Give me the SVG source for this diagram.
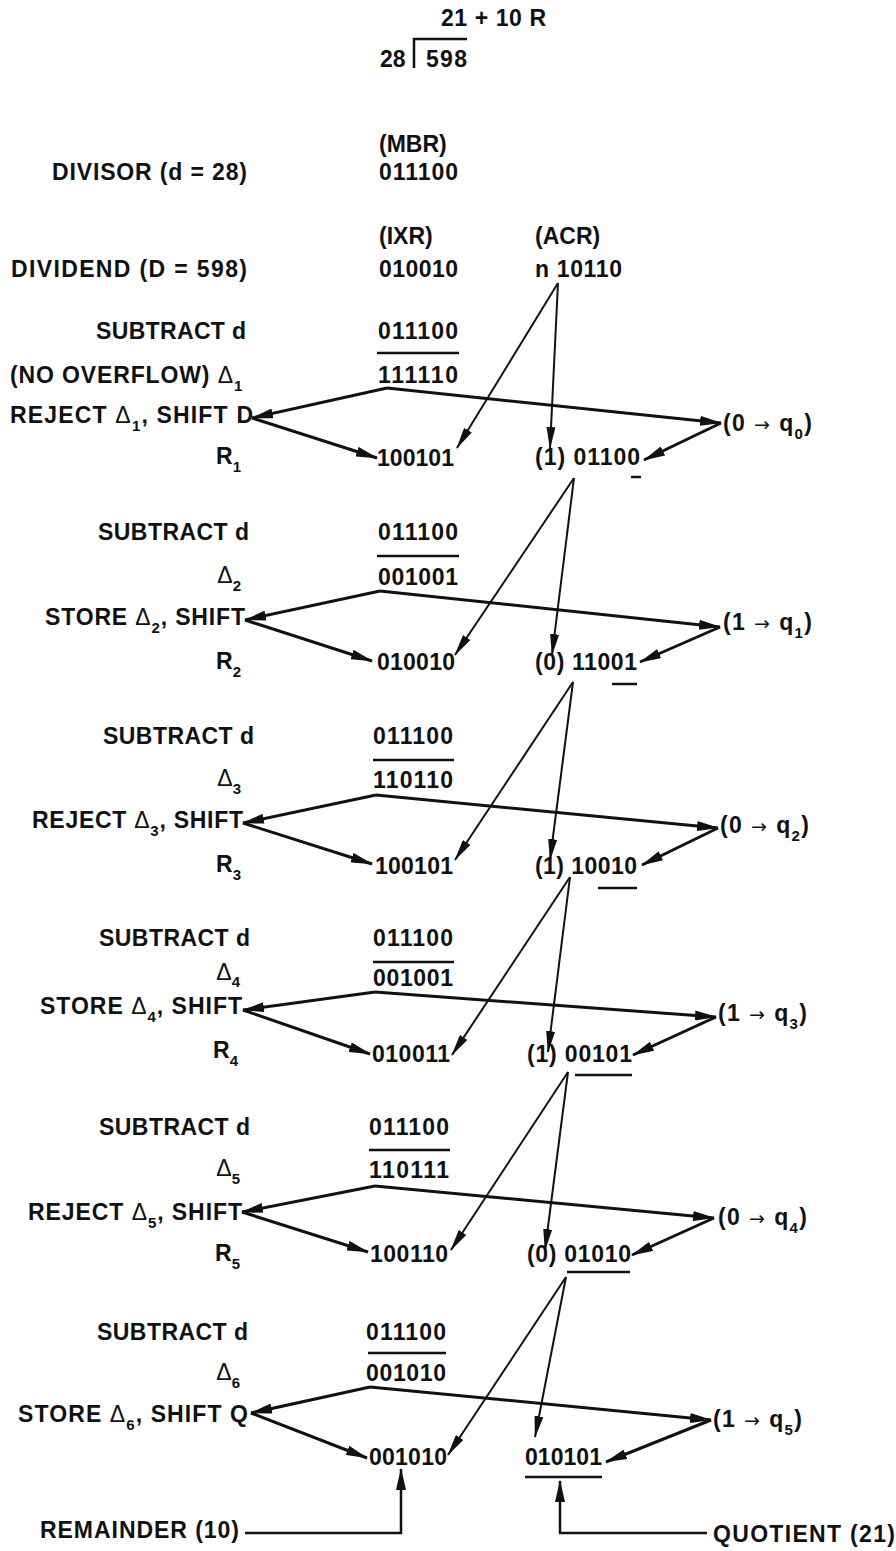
<svg xmlns="http://www.w3.org/2000/svg" width="896" height="1551" viewBox="0 0 896 1551">
<style>
  text { font-family: "Liberation Sans", Arial, sans-serif; font-weight: bold; font-size: 23px; fill: #111; }
  .lbl { text-anchor: end; }
  .num { text-anchor: end; }
  .d { font-weight: normal; }
  .ar { font-family: "DejaVu Sans", sans-serif; font-size: 19px; font-weight: normal; }
  .sub { font-size: 15px; }
  .rule { stroke: #111; stroke-width: 2.5; fill: none; }
  .flow { stroke: #111; stroke-width: 3; fill: none; marker-end: url(#head); }
  .load { stroke: #111; stroke-width: 2; fill: none; marker-end: url(#headThin); }
  .tag { stroke: #111; stroke-width: 2.5; fill: none; marker-end: url(#head); }
</style>
<defs>
  <marker id="head" viewBox="0 0 22 10" refX="21" refY="5" markerWidth="22" markerHeight="10" markerUnits="userSpaceOnUse" orient="auto">
    <path d="M0,0 L22,5 L0,10 z" fill="#111"/>
  </marker>
  <marker id="headThin" viewBox="0 0 22 9" refX="21" refY="4.5" markerWidth="22" markerHeight="9" markerUnits="userSpaceOnUse" orient="auto">
    <path d="M0,0 L22,4.5 L0,9 z" fill="#111"/>
  </marker>
</defs>
<rect width="896" height="1551" fill="#fff"/>

<!-- long division heading -->
<g id="division">
  <text x="441" y="26" textLength="105">21 + 10 R</text>
  <text x="380" y="67">28</text>
  <path class="rule" d="M414,68 V39 H467"/>
  <text x="426" y="67" textLength="41">598</text>
</g>

<!-- operands -->
<g id="divisor">
  <text x="379" y="152">(MBR)</text>
  <text class="lbl" x="247" y="180" textLength="195">DIVISOR (d = 28)</text>
  <text class="num" x="458" y="180" textLength="79">011100</text>
</g>
<g id="dividend">
  <text x="379" y="244">(IXR)</text>
  <text x="535" y="244">(ACR)</text>
  <text class="lbl" x="247" y="277" textLength="236">DIVIDEND (D = 598)</text>
  <text class="num" x="458" y="277" textLength="79">010010</text>
  <text x="535" y="277" textLength="87">n 10110</text>
</g>

<!-- step 1 -->
<g id="step1">
  <text class="lbl" x="246" y="339" textLength="150">SUBTRACT d</text>
  <text class="num" x="458" y="339" textLength="80">011100</text>
  <path class="rule" d="M377,353 H459"/>
  <text x="10" y="383" textLength="223">(NO OVERFLOW) <tspan class="d">Δ</tspan></text>
  <text x="234" y="391" class="sub">1</text>
  <text class="num" x="458" y="383" textLength="80">111110</text>
  <text x="10" y="423" textLength="243">REJECT <tspan class="d">Δ</tspan><tspan dy="8" class="sub">1</tspan><tspan dy="-8">, SHIFT D</tspan></text>
  <text x="723" y="431" textLength="89">(0 <tspan class="ar">→</tspan> q<tspan dy="8" class="sub">0</tspan><tspan dy="-8">)</tspan></text>
  <text class="lbl" x="241" y="464">R<tspan dy="8" class="sub">1</tspan></text>
  <text class="num" x="454" y="466" textLength="77">100101</text>
  <text x="535" y="465" textLength="105">(1) 01100</text>
  <path class="rule" d="M631,477 H641"/>
</g>

<!-- step 2 -->
<g id="step2">
  <text class="lbl" x="249" y="540" textLength="151">SUBTRACT d</text>
  <text class="num" x="458" y="540" textLength="80">011100</text>
  <path class="rule" d="M377,556 H459"/>
  <text class="lbl" x="241" y="583"><tspan class="d">Δ</tspan><tspan dy="8" class="sub">2</tspan></text>
  <text class="num" x="458" y="585" textLength="80">001001</text>
  <text x="45" y="625" textLength="200">STORE <tspan class="d">Δ</tspan><tspan dy="8" class="sub">2</tspan><tspan dy="-8">, SHIFT</tspan></text>
  <text x="723" y="630" textLength="89">(1 <tspan class="ar">→</tspan> q<tspan dy="8" class="sub">1</tspan><tspan dy="-8">)</tspan></text>
  <text class="lbl" x="241" y="669">R<tspan dy="8" class="sub">2</tspan></text>
  <text class="num" x="455" y="670" textLength="78">010010</text>
  <text x="535" y="670" textLength="102">(0) 11001</text>
  <path class="rule" d="M612,684 H637"/>
</g>

<!-- step 3 -->
<g id="step3">
  <text class="lbl" x="254" y="744" textLength="151">SUBTRACT d</text>
  <text class="num" x="453" y="744" textLength="80">011100</text>
  <path class="rule" d="M373,760 H454"/>
  <text class="lbl" x="241" y="786"><tspan class="d">Δ</tspan><tspan dy="8" class="sub">3</tspan></text>
  <text class="num" x="453" y="788" textLength="80">110110</text>
  <text x="32" y="828" textLength="211">REJECT <tspan class="d">Δ</tspan><tspan dy="8" class="sub">3</tspan><tspan dy="-8">, SHIFT</tspan></text>
  <text x="720" y="833" textLength="89">(0 <tspan class="ar">→</tspan> q<tspan dy="8" class="sub">2</tspan><tspan dy="-8">)</tspan></text>
  <text class="lbl" x="241" y="872">R<tspan dy="8" class="sub">3</tspan></text>
  <text class="num" x="453" y="874" textLength="78">100101</text>
  <text x="535" y="874" textLength="102">(1) 10010</text>
  <path class="rule" d="M598,888 H637"/>
</g>

<!-- step 4 -->
<g id="step4">
  <text class="lbl" x="250" y="946" textLength="151">SUBTRACT d</text>
  <text class="num" x="453" y="946" textLength="80">011100</text>
  <path class="rule" d="M373,962 H454"/>
  <text class="lbl" x="240" y="980"><tspan class="d">Δ</tspan><tspan dy="7" class="sub">4</tspan></text>
  <text class="num" x="453" y="986" textLength="80">001001</text>
  <text x="40" y="1014" textLength="202">STORE <tspan class="d">Δ</tspan><tspan dy="8" class="sub">4</tspan><tspan dy="-8">, SHIFT</tspan></text>
  <text x="718" y="1021" textLength="89">(1 <tspan class="ar">→</tspan> q<tspan dy="8" class="sub">3</tspan><tspan dy="-8">)</tspan></text>
  <text class="lbl" x="238" y="1058">R<tspan dy="8" class="sub">4</tspan></text>
  <text class="num" x="450" y="1062" textLength="78">010011</text>
  <text x="527" y="1062" textLength="105">(1) 00101</text>
  <path class="rule" d="M575,1075 H632"/>
</g>

<!-- step 5 -->
<g id="step5">
  <text class="lbl" x="250" y="1135" textLength="151">SUBTRACT d</text>
  <text class="num" x="449" y="1135" textLength="80">011100</text>
  <path class="rule" d="M369,1150 H450"/>
  <text class="lbl" x="240" y="1176"><tspan class="d">Δ</tspan><tspan dy="8" class="sub">5</tspan></text>
  <text class="num" x="449" y="1178" textLength="80">110111</text>
  <text x="28" y="1220" textLength="214">REJECT <tspan class="d">Δ</tspan><tspan dy="8" class="sub">5</tspan><tspan dy="-8">, SHIFT</tspan></text>
  <text x="718" y="1225" textLength="89">(0 <tspan class="ar">→</tspan> q<tspan dy="8" class="sub">4</tspan><tspan dy="-8">)</tspan></text>
  <text class="lbl" x="240" y="1261">R<tspan dy="8" class="sub">5</tspan></text>
  <text class="num" x="448" y="1262" textLength="78">100110</text>
  <text x="527" y="1262" textLength="104">(0) 01010</text>
  <path class="rule" d="M567,1272 H630"/>
</g>

<!-- step 6 -->
<g id="step6">
  <text class="lbl" x="248" y="1340" textLength="151">SUBTRACT d</text>
  <text class="num" x="446" y="1340" textLength="80">011100</text>
  <path class="rule" d="M368,1353 H446"/>
  <text class="lbl" x="240" y="1380"><tspan class="d">Δ</tspan><tspan dy="8" class="sub">6</tspan></text>
  <text class="num" x="446" y="1381" textLength="80">001010</text>
  <text x="18" y="1422" textLength="230">STORE <tspan class="d">Δ</tspan><tspan dy="8" class="sub">6</tspan><tspan dy="-8">, SHIFT Q</tspan></text>
  <text x="713" y="1427" textLength="89">(1 <tspan class="ar">→</tspan> q<tspan dy="8" class="sub">5</tspan><tspan dy="-8">)</tspan></text>
  <text class="num" x="447" y="1465" textLength="78">001010</text>
  <text x="525" y="1465" textLength="77">010101</text>
  <path class="rule" d="M525,1477 H602"/>
</g>

<!-- results -->
<g id="remainder">
  <text x="40" y="1538" textLength="199">REMAINDER (10)</text>
</g>
<g id="quotient">
  <text x="713" y="1542" textLength="182">QUOTIENT (21)</text>
</g>

<!-- connectors -->
<g id="connectors">
  <!-- step 1 -->
  <path class="load" d="M558,283 L457,448"/>
  <path class="load" d="M558,283 L550,448"/>
  <path class="flow" d="M387,388 L252,418"/>
  <path class="flow" d="M387,388 L721,423"/>
  <path class="flow" d="M252,418 L377,458"/>
  <path class="flow" d="M721,423 L644,460"/>
  <!-- step 2 -->
  <path class="load" d="M574,478 L455,655"/>
  <path class="load" d="M574,478 L552,655"/>
  <path class="flow" d="M380,591 L245,620"/>
  <path class="flow" d="M380,591 L720,627"/>
  <path class="flow" d="M245,620 L372,661"/>
  <path class="flow" d="M720,627 L640,662"/>
  <!-- step 3 -->
  <path class="load" d="M573,682 L455,860"/>
  <path class="load" d="M573,682 L550,860"/>
  <path class="flow" d="M376,795 L243,823"/>
  <path class="flow" d="M376,795 L718,828"/>
  <path class="flow" d="M243,823 L372,864"/>
  <path class="flow" d="M718,828 L642,865"/>
  <!-- step 4 -->
  <path class="load" d="M570,877 L452,1055"/>
  <path class="load" d="M570,877 L548,1052"/>
  <path class="flow" d="M375,992 L243,1010"/>
  <path class="flow" d="M375,992 L716,1017"/>
  <path class="flow" d="M243,1010 L370,1054"/>
  <path class="flow" d="M716,1017 L633,1055"/>
  <!-- step 5 -->
  <path class="load" d="M568,1072 L451,1250"/>
  <path class="load" d="M568,1072 L545,1250"/>
  <path class="flow" d="M375,1186 L242,1212"/>
  <path class="flow" d="M375,1186 L714,1218"/>
  <path class="flow" d="M242,1212 L368,1252"/>
  <path class="flow" d="M714,1218 L632,1255"/>
  <!-- step 6 -->
  <path class="load" d="M566,1277 L448,1455"/>
  <path class="load" d="M566,1277 L535,1437"/>
  <path class="flow" d="M370,1387 L251,1413"/>
  <path class="flow" d="M370,1387 L711,1420"/>
  <path class="flow" d="M251,1413 L367,1458"/>
  <path class="flow" d="M711,1420 L606,1462"/>
  <!-- result pointers -->
  <path class="tag" d="M245,1533 H401 V1469"/>
  <path class="tag" d="M707,1533 H560 V1481"/>
</g>
</svg>
